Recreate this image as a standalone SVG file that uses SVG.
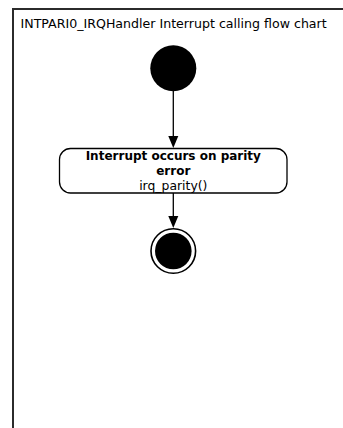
<svg xmlns="http://www.w3.org/2000/svg" width="343" height="428" viewBox="0 0 343 428">
<defs>
<style>
.frame{fill:#fff;stroke:#2b2b2b;stroke-width:2}
.t{font-family:"DejaVu Sans",Verdana,sans-serif;fill:#000}
.title{font-size:12.6px}
.bold{font-size:12px;font-weight:bold}
.reg{font-size:12.4px}
.act{fill:#fff;stroke:#000;stroke-width:1.3}
.conn{stroke:#000;stroke-width:1.3;fill:none}
.head{fill:#000}
</style>
</defs>
<rect x="0" y="0" width="343" height="428" fill="#fff"/>
<g id="frame">
<rect class="frame" x="13" y="9" width="345" height="440"/>
<text class="t title" x="20.5" y="28">INTPARI0_IRQHandler Interrupt calling flow chart</text>
</g>
<g id="connectors">
<line class="conn" x1="173.3" y1="91" x2="173.3" y2="137"/>
<path class="head" d="M168.3,136 L178.3,136 L173.3,148 Z"/>
<line class="conn" x1="173.3" y1="193" x2="173.3" y2="217"/>
<path class="head" d="M168.3,216 L178.3,216 L173.3,228 Z"/>
</g>
<g id="start">
<circle cx="173.3" cy="68.3" r="23" fill="#000"/>
</g>
<g id="action">
<rect class="act" x="59.5" y="148.5" width="227.5" height="44.5" rx="11" ry="11"/>
<text class="t bold" x="173.3" y="160" text-anchor="middle">Interrupt occurs on parity</text>
<text class="t bold" x="173.3" y="174.5" text-anchor="middle">error</text>
<text class="t reg" x="173.3" y="189.5" text-anchor="middle">irq_parity()</text>
</g>
<g id="end">
<circle cx="173.3" cy="251" r="22.3" fill="#fff" stroke="#000" stroke-width="1.6"/>
<circle cx="173.3" cy="251" r="18.3" fill="#000"/>
</g>
</svg>
